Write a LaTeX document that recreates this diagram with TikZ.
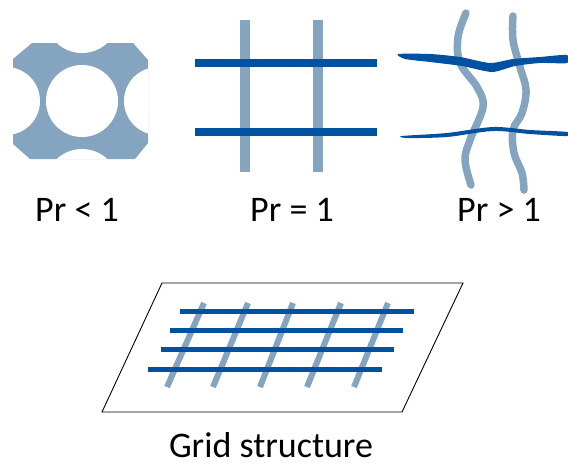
\documentclass[tikz,border=0pt]{standalone}
\usepackage{fontspec}
\setmainfont{Carlito}
\begin{document}
\begin{tikzpicture}[x=1pt,y=-1pt,
  lightfib/.style={draw=fibLight,line width=#1,line cap=butt},
  darkfib/.style={draw=fibDark,line width=#1,line cap=butt},
  wavyfib/.style={draw=fibLight,line width=7.5,line cap=round,line join=round},
  label/.style={font=\fontsize{36}{40}\selectfont,anchor=base,inner sep=0pt}]
\definecolor{fibLight}{RGB}{132,164,192}
\definecolor{fibDark}{RGB}{0,82,160}
\useasboundingbox (0,0) rectangle (568,467);

% --- Pr < 1 : porous block ---
\begin{scope}
  \clip (32,43) -- (133,43) -- (148,60) -- (148,143) -- (135,159)
        -- (30,159) -- (13,144) -- (13,59) -- cycle;
  \fill[fibLight] (0,30) rectangle (160,170);
  \fill[white] (82,101) circle[radius=36];
  \fill[white] (82,16) circle[radius=37];
  \fill[white] (82,186) circle[radius=37];
  \fill[white] (6,101) circle[radius=34];
  \fill[white] (158,101) circle[radius=34];
\end{scope}
\node[label] (lt) at (77,221) {Pr < 1};

% --- Pr = 1 : straight grid ---
\draw[lightfib=10] (245,20) -- (245,172);
\draw[lightfib=10] (318,20) -- (318,172);
\draw[darkfib=8] (195,63) -- (377,63);
\draw[darkfib=8] (195,132) -- (377,132);
\node[label] (eq) at (292,221) {Pr = 1};

% --- Pr > 1 : distorted grid ---
\draw[wavyfib] plot[smooth,tension=0.6] coordinates
  {(466,13) (458,37) (460,63) (477,87) (483,107) (470,140) (465,160) (471,185)};
\draw[wavyfib] plot[smooth,tension=0.6] coordinates
  {(513,16) (513,40) (520,67) (526,90) (522,113) (513,130) (514,153) (522,173) (524,190)};
\fill[fibDark] plot[smooth cycle,tension=0.4] coordinates
  {(398,54) (430,54) (460,57) (490,63) (513,59) (540,57) (567,55)
   (567,63) (540,63) (515,66) (492,72) (462,66) (430,62) (405,59)};
\fill[fibDark] plot[smooth cycle,tension=0.5] coordinates
  {(402,136) (447,133) (493,127) (530,130) (567,132)
   (567,136) (530,134) (493,131) (447,137) (408,138)};
\node[label] (gt) at (499,221) {Pr > 1};

% --- grid structure on a plane ---
\draw[line width=0.9pt] (162,283) coordinate (p1) -- (463,283) coordinate (p2)
  -- (402,412) coordinate (p3) -- (102,412) coordinate (p4) -- cycle;
\foreach \xt/\xb in {204/167,248/213,293/260,341/307,388/354}
  \draw[lightfib=6] (\xt,303) -- (\xb,387);
\draw[darkfib=5] (180,311) -- (414,311);
\draw[darkfib=5] (170,330) -- (403,330);
\draw[darkfib=5] (161,349) -- (394,349);
\draw[darkfib=5] (148,369) -- (382,369);
\node[label] (gs) at (271,457) {Grid structure};
\end{tikzpicture}
\end{document}
